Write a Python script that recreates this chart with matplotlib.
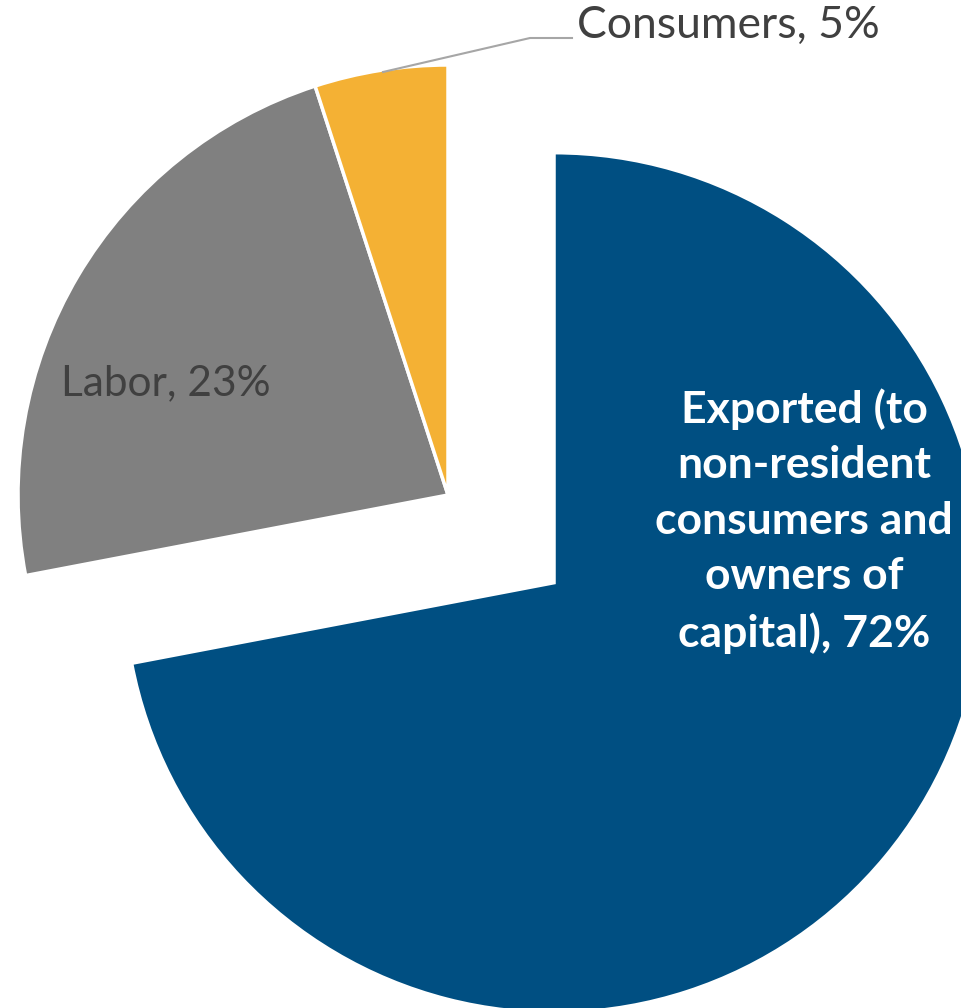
import matplotlib.pyplot as plt
import numpy as np

# Incidence shares
labels = ["Exported (to\nnon-resident\nconsumers and\nowners of\ncapital)", "Labor", "Consumers"]
shares = [72, 23, 5]
colors = ["#004F82", "#808080", "#F4B134"]
explode_frac = [0.32, 0, 0]

W, H = 961, 1008
fig = plt.figure(figsize=(W / 100, H / 100), dpi=100)
ax = fig.add_axes([0, 0, 1, 1])

center = (448, H - 495)
radius = 430

# pie() offsets wedges in data units, so scale the fractions by the radius
wedges, _ = ax.pie(shares, colors=colors,
                   explode=[f * radius for f in explode_frac],
                   startangle=90, counterclock=False,
                   center=center, radius=radius,
                   wedgeprops=dict(edgecolor="white", linewidth=2.5))

# pie() rescales the axes, so fix the pixel frame afterwards
ax.set_xlim(0, W)
ax.set_ylim(0, H)
ax.set_aspect("equal")
ax.axis("off")

font = "Lato"

# Exported label (white, inside the exploded slice)
ax.text(804, H - 521, f"{labels[0]}, {shares[0]}%", ha="center", va="center",
        color="white", fontsize=32, fontweight="bold", family=font,
        linespacing=1.47)

# Labor label (inside the grey slice)
ax.text(61, H - 383, f"{labels[1]}, {shares[1]}%", ha="left", va="center",
        color="#404040", fontsize=30.5, family=font)

# Consumers label with leader line
ax.plot([383, 530, 572], [H - 72, H - 38, H - 38], color="#A6A6A6", lw=1.5)
ax.text(577, H - 25, f"{labels[2]}, {shares[2]}%", ha="left", va="center",
        color="#404040", fontsize=32, family=font)

fig.savefig("out.png", dpi=100)
